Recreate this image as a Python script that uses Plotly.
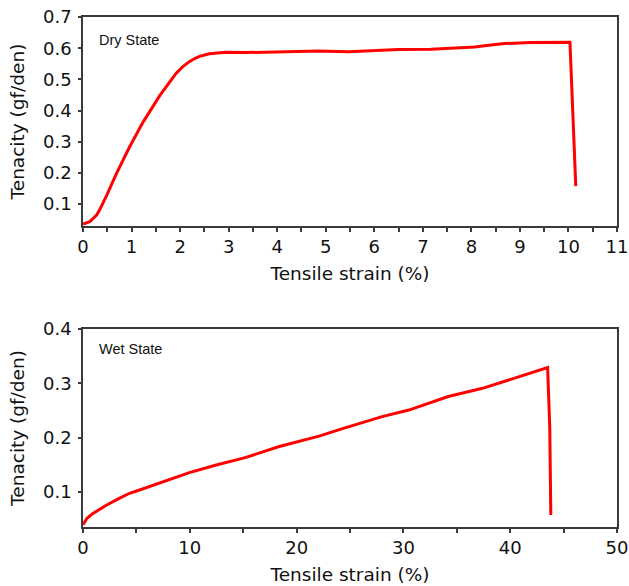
import plotly.graph_objects as go
from plotly.subplots import make_subplots

# Dry state curve
dry_strain = [0, 0.14, 0.28, 0.34, 0.49, 0.69, 0.96, 1.24, 1.58, 1.75, 1.92, 2.05, 2.19,
              2.30, 2.40, 2.60, 2.94, 3.35, 4.03, 4.45, 4.85, 5.47, 5.81, 6.5, 7.17,
              8.07, 8.27, 8.68, 9.23, 9.71, 10.03, 10.15]
dry_tenacity = [0.036, 0.044, 0.065, 0.081, 0.129, 0.199, 0.284, 0.364, 0.448, 0.486,
                0.520, 0.540, 0.557, 0.567, 0.574, 0.582, 0.587, 0.586, 0.588, 0.590,
                0.591, 0.589, 0.592, 0.596, 0.597, 0.604, 0.608, 0.615, 0.618, 0.620,
                0.619, 0.158]

# Wet state curve
wet_strain = [0, 0.37, 0.93, 2.18, 3.43, 4.36, 5.29, 7.47, 9.96, 12.3, 15.26, 18.37, 20.2,
              22.1, 24.3, 28.0, 30.5, 34.2, 37.4, 39.8, 42.0, 43.5, 43.7, 43.8]
wet_tenacity = [0.040, 0.052, 0.061, 0.076, 0.089, 0.098, 0.104, 0.119, 0.136, 0.149,
                0.164, 0.184, 0.193, 0.203, 0.217, 0.239, 0.251, 0.276, 0.291, 0.306,
                0.320, 0.329, 0.220, 0.058]

dry_yticks = [0.1, 0.2, 0.3, 0.4, 0.5, 0.6, 0.7]
wet_yticks = [0.1, 0.2, 0.3, 0.4]
dry_xticks = [i * 0.5 for i in range(23)]
wet_xticks = list(range(0, 51, 5))

FONT = "DejaVu Sans"
AX = "#3a3a3a"
TXT = "#111111"
XDOM = [0.132, 0.981]

fig = make_subplots(rows=2, cols=1)
fig.add_trace(go.Scatter(x=dry_strain, y=dry_tenacity, mode="lines",
                         line=dict(color="#ff0000", width=3), name="Dry State"), row=1, col=1)
fig.add_trace(go.Scatter(x=wet_strain, y=wet_tenacity, mode="lines",
                         line=dict(color="#ff0000", width=3), name="Wet State"), row=2, col=1)

common_x = dict(showgrid=False, zeroline=False, showline=True, linecolor=AX, linewidth=1.5,
                mirror=True, ticks="outside", ticklen=4, tickcolor=AX, tickwidth=1.5,
                automargin=False,
                tickfont=dict(family=FONT, size=18, color=TXT),
                title=dict(text="Tensile strain (%)", standoff=11,
                           font=dict(family=FONT, size=18.5, color=TXT)))
common_y = dict(showgrid=False, zeroline=False, showline=True, linecolor=AX, linewidth=1.5,
                mirror=True, ticks="outside", ticklen=3, tickcolor=AX, tickwidth=1.5,
                automargin=False, ticklabelstandoff=3,
                tickfont=dict(family=FONT, size=18, color=TXT),
                title=dict(text="Tenacity (gf/den)", standoff=14,
                           font=dict(family=FONT, size=18.5, color=TXT)))

fig.update_xaxes(common_x, row=1, col=1, range=[0, 11.0001], tickvals=dry_xticks,
                 ticktext=[f"{v:g}" if v == int(v) else "" for v in dry_xticks],
                 domain=XDOM)
fig.update_xaxes(common_x, row=2, col=1, range=[0, 50.001], tickvals=wet_xticks,
                 ticktext=[str(v) if v % 10 == 0 else "" for v in wet_xticks],
                 domain=XDOM)
fig.update_yaxes(common_y, row=1, col=1, range=[0.03, 0.7001], tickvals=dry_yticks,
                 ticktext=[f"{v:.1f}" for v in dry_yticks], domain=[0.6143, 0.971])
fig.update_yaxes(common_y, row=2, col=1, range=[0.036, 0.4001], tickvals=wet_yticks,
                 ticktext=[f"{v:.1f}" for v in wet_yticks], domain=[0.1007, 0.4386])

# inner halves of the crossing y ticks
fig.update_layout(
    yaxis3=dict(overlaying="y", anchor="x", range=[0.03, 0.7001], tickvals=dry_yticks,
                ticks="inside", ticklen=3, tickcolor=AX, tickwidth=1.5, automargin=False,
                showticklabels=False, showline=False, showgrid=False, zeroline=False),
    yaxis4=dict(overlaying="y2", anchor="x2", range=[0.036, 0.4001], tickvals=wet_yticks,
                ticks="inside", ticklen=3, tickcolor=AX, tickwidth=1.5, automargin=False,
                showticklabels=False, showline=False, showgrid=False, zeroline=False),
)

fig.add_annotation(x=0.026, y=0.89, xref="x domain", yref="y domain", text="Dry State",
                   showarrow=False, xanchor="left", yanchor="middle",
                   font=dict(family="Liberation Sans", size=14.5, color=TXT))
fig.add_annotation(x=0.026, y=0.9, xref="x2 domain", yref="y2 domain", text="Wet State",
                   showarrow=False, xanchor="left", yanchor="middle",
                   font=dict(family="Liberation Sans", size=14.5, color=TXT))

fig.update_layout(width=629, height=586, margin=dict(l=0, r=0, t=0, b=0),
                  plot_bgcolor="white", paper_bgcolor="white", showlegend=False)

fig.write_html("out.html")
